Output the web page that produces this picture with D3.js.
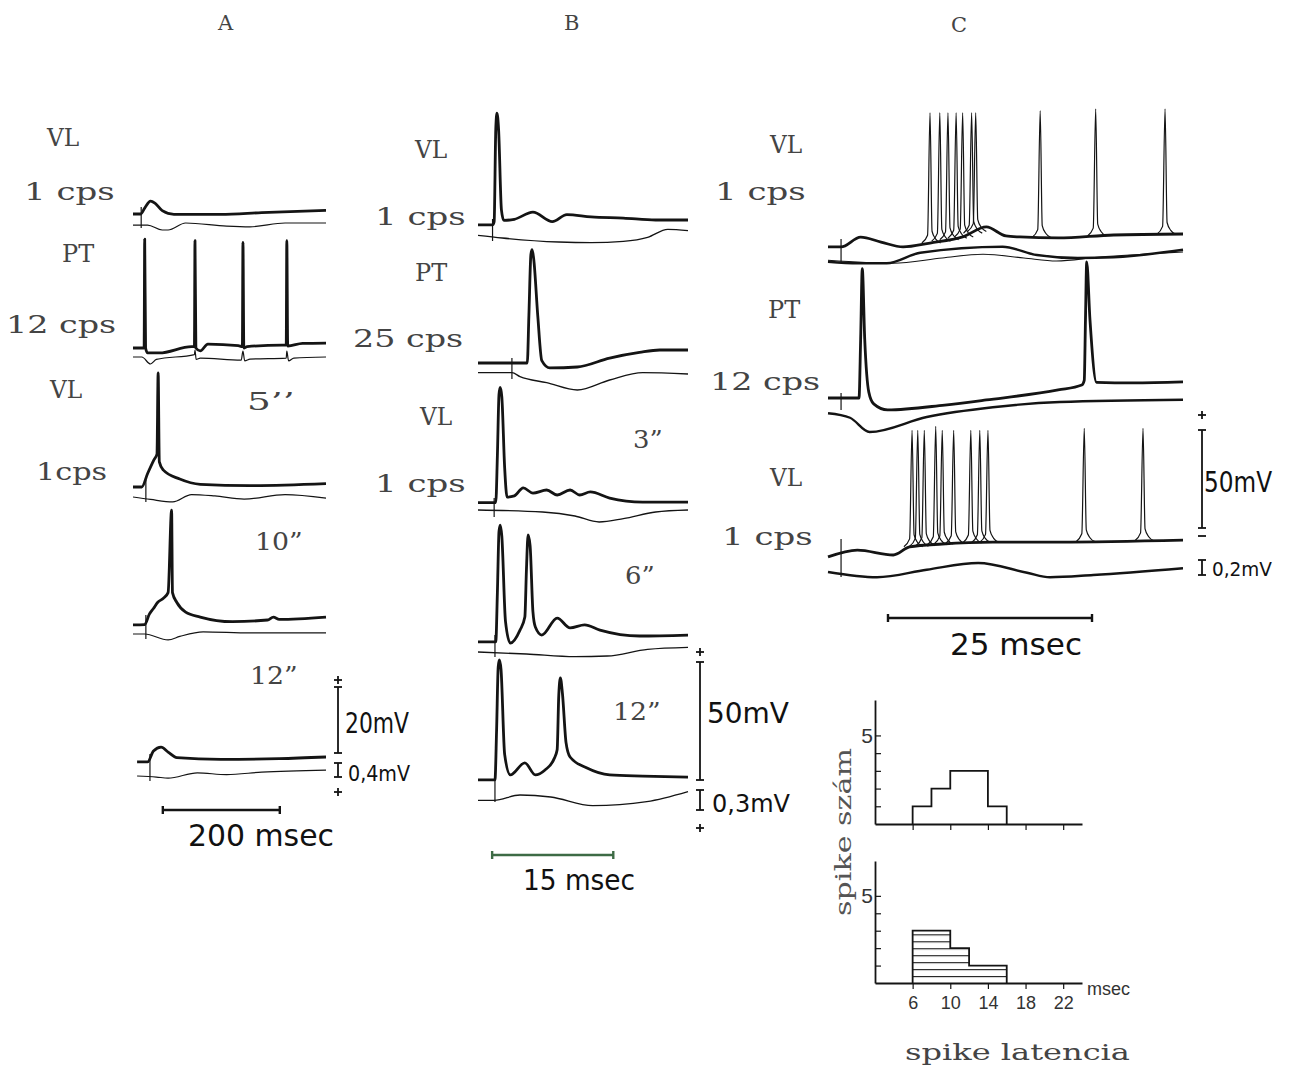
<!DOCTYPE html>
<html>
<head>
<meta charset="utf-8">
<script src="https://cdn.jsdelivr.net/npm/d3@7"></script>
<style>
  body { margin: 0; background: #fff; }
  .tw { font-family: "DejaVu Serif", "Liberation Serif", serif; fill: #444; }
  .hw { font-family: "Liberation Sans Narrow", "DejaVu Sans Condensed", "Liberation Sans", sans-serif; fill: #111; }
  .hs { font-family: "Liberation Sans", "DejaVu Sans", sans-serif; fill: #333; }
</style>
</head>
<body>
<div id="wrapper"></div>
<script>
// ---------- data: time in msec, intracellular trace in mV, field trace in mV ----------

// A : VL 1cps, PT 12cps, VL after 5", 10", 12"
const a1Thick = [[0,-0.6],[13,-0.6],[20,1.2],[30,3.3],[38,2.6],[50,0.4],[70,-0.7],[150,-0.7],[220,-0.2],[330,0.5]];
const a1Thin  = [[0,-0.06],[25,-0.06],[50,-0.2],[60,-0.2],[90,0],[160,-0.09],[200,-0.11],[260,0],[330,0]];
const a2Thick = [[0,0],[19,0],[20,33],[21.5,0],[25,-1.5],[45,-1.5],[100,0.4],[105,0.4],[106,32.5],[107.5,0],[115,-0.9],[128,1.2],[180,0.7],[187,0.4],[188,32],[189.5,0],[195,0.4],[255,0.9],[262,0.9],[263,32.5],[264.5,0.6],[290,1.4],[330,1.5]];
const a2Thin  = [[0,0],[15,0],[30,-0.2],[40,-0.07],[105,0.07],[106,0.2],[108,-0.07],[115,-0.03],[185,-0.09],[188,0.17],[191,-0.11],[200,-0.06],[262,-0.03],[263,0.17],[266,-0.11],[275,-0.03],[330,0]];
const a3Thick = [[0,-0.6],[15,-0.6],[25,3.5],[36,7.7],[41,9.4],[43,34],[45,7],[52,4.5],[80,1.8],[115,0.2],[200,-0.2],[330,0.4]];
const a3Thin  = [[0,0],[30,-0.07],[68,-0.14],[100,0.07],[140,0.03],[190,-0.06],[260,0.07],[330,-0.03]];
const a4Thick = [[0,-1.5],[20,-1.4],[28,1.8],[35,3.5],[42,5.3],[52,6.6],[60,8.3],[66,33.3],[67.5,8.3],[75,5.3],[90,2.4],[115,0.9],[170,-0.5],[230,0],[240,0.9],[250,0.2],[330,0.9]];
const a4Thin  = [[0,0],[20,0],[60,-0.17],[80,-0.07],[120,0.06],[200,0.03],[330,0.03]];
const a5Thick = [[7,-0.9],[25,-0.9],[35,2.4],[48,3.6],[60,2.1],[75,0.4],[150,-0.1],[250,0.1],[330,0.6]];
const a5Thin  = [[7,0],[40,-0.03],[60,-0.06],[110,0.09],[160,0.04],[220,0.11],[330,0.17]];
const aStim = [14, null, 22, 22, 29];

// B : VL 1cps, PT 25cps, VL after 3", 6", 12"
const b1Thick = [[0,-0.4],[1.8,-0.4],[2.0,1],[2.2,40],[2.35,47],[2.55,40],[2.9,6],[3.2,1.5],[4.5,2],[6.8,5],[9.2,1],[11,4],[14,3],[18,2.5],[22,1.7],[26,1.7]];
const b1Thin  = [[0,0.01],[3,-0.03],[10,-0.09],[14,-0.1],[18,-0.08],[21,-0.02],[23.5,0.1],[26,0.08]];
const b2Thick = [[0,0],[6.1,0],[6.3,20],[6.55,46],[6.7,48],[6.9,44],[7.4,20],[7.9,1],[8.9,-2.1],[12.3,-1.7],[16.3,2.1],[20,4.5],[22.5,5.5],[26,5.5]];
const b2Thin  = [[0,0.02],[4.2,0.02],[5.2,-0.04],[8.5,-0.13],[12.3,-0.24],[16.3,-0.09],[20.4,0.02],[26,0]];
const b3Thick = [[0,0.2],[2.2,0.2],[2.4,20],[2.6,46],[2.75,49],[2.95,45],[3.3,15],[3.6,2.5],[4.5,3],[5.6,6.4],[6.8,4.2],[8.5,5.5],[9.8,3.4],[11.4,5.5],[12.6,3.4],[13.9,4.7],[16.3,2.1],[20.4,0.4],[26,0.4]];
const b3Thin  = [[0,0.03],[8,0],[12,-0.06],[15,-0.15],[18,-0.1],[22,0],[26,0.03]];
const b4Thick = [[0,-0.8],[2.2,-0.8],[2.4,20],[2.6,46],[2.75,48.7],[2.95,44],[3.4,8],[4.0,-1.3],[5.2,4.2],[5.8,9.7],[6.0,30],[6.2,44.5],[6.45,40],[6.8,12],[7.1,5.5],[7.9,2.1],[9.8,9.3],[11.4,5.1],[13.2,6.4],[15.1,4.2],[20,1.7],[26,2.1]];
const b4Thin  = [[0,0],[6,-0.03],[12,-0.07],[16,-0.06],[21,0.04],[26,0.07]];
const b5Thick = [[0,-0.8],[2.1,-0.8],[2.3,20],[2.5,47],[2.65,50],[2.85,46],[3.3,10],[4.0,1.3],[5.8,6.4],[7.1,1.3],[8.3,3.4],[9.4,8],[9.8,12],[10.0,35],[10.2,42.4],[10.45,36],[10.9,15],[11.4,8.9],[13.5,4.2],[16.3,1.3],[20.4,0.8],[26,0.4]];
const b5Thin  = [[0,-0.05],[2,-0.05],[5.2,0.03],[9,0],[14.2,-0.13],[20.9,-0.07],[26,0.08]];
const bStim = [1.8, 4.2, 2.0, 2.1, 2.1];

// C : superimposed sweeps, VL 1cps, PT 12cps, VL 1cps
const c1Thick  = [[0,-1.5],[1.6,-1.5],[4.0,3.5],[6.5,1],[9.2,-1.5],[12.5,0.5],[16.5,3.6],[19.4,8.7],[21.8,4.1],[23.5,3.6],[28.2,3.1],[35,4.6],[43.5,5.1]];
const c1Field  = [[0,-0.05],[3.7,-0.07],[7.2,-0.07],[11.3,0.07],[21.4,0.15],[25.6,0.04],[30.6,0],[35,0.01],[43.5,0.11]];
const c1Field2 = [[0,-0.03],[8,-0.07],[14,0.0],[19,0.05],[24,0.0],[28,-0.04],[33,0.01],[43.5,0.08]];
const c1Spikes = [[12.5,67],[13.7,67],[14.7,67],[15.7,67],[16.5,67],[17.6,67],[18.1,67],[26,68],[32.8,69],[41.3,69]];
const c2Thick  = [[0,0],[3.8,0],[4.0,30],[4.2,66],[4.5,30],[5.0,3],[5.6,-3],[7.3,-6.1],[14.3,-3.6],[19.4,-1],[28.2,4.1],[31.1,6.6],[31.4,9],[31.55,40],[31.7,69.4],[32.1,40],[32.9,8],[37.4,7.7],[43.5,8.2]];
const c2Field  = [[0,-0.11],[2.7,-0.17],[5.1,-0.36],[12.1,-0.16],[20.2,-0.03],[28.4,0.04],[43.5,0.07]];
const c3Thick  = [[0,-6.6],[3.6,-3.1],[8,-5.6],[10,-1.5],[14,0],[20.2,1],[28.4,1],[43.5,2]];
const c3Field  = [[0,0],[6,-0.07],[12.1,0.03],[18.4,0.12],[24.4,-0.01],[27.2,-0.07],[32.5,-0.04],[43.5,0.05]];
const c3Spikes = [[10.3,58],[11.0,58],[11.8,58],[13.2,60],[14.0,58],[15.4,58],[17.5,58],[18.6,58],[19.6,58],[31.4,59],[38.6,59]];
const cStim = [1.6, 1.6, 1.6];

// histograms of spike latency (msec) : counts per 2 msec bin
const binEdges  = [6, 8, 10, 12, 14, 16];
const histUpper = [1, 2, 3, 3, 1];
const histLower = [3, 3, 2, 1, 1];
const latTicks  = [6, 10, 14, 18, 22];

// labels
const panelNames = ["A", "B", "C"];
const labelsA = ["VL", "1 cps", "PT", "12 cps", "VL", "1cps"];
const labelsB = ["VL", "1 cps", "PT", "25 cps", "VL", "1 cps"];
const labelsC = ["VL", "1 cps", "PT", "12 cps", "VL", "1 cps"];
const delaysA = ["5’’", "10”", "12”"];
const delaysB = ["3”", "6”", "12”"];

// ---------- drawing ----------
const width = 1294, height = 1071, ink = "#141414";

const svg = d3.select("#wrapper").append("svg")
    .attr("width", width).attr("height", height)
    .style("background", "#fff");

const curve = (x, y) => d3.line().x(d => x(d[0])).y(d => y(d[1])).curve(d3.curveMonotoneX);

function valueAt(arr, t) {
    const i = d3.bisector(d => d[0]).left(arr, t);
    if (i <= 0) return arr[0][1];
    if (i >= arr.length) return arr[arr.length - 1][1];
    const a = arr[i - 1], b = arr[i];
    return a[1] + (b[1] - a[1]) * (t - a[0]) / (b[0] - a[0]);
}

function drawRows(rows, x, cal, opt) {
    rows.forEach(r => {
        const yT = d3.scaleLinear().domain([0, cal.mv]).range([r.base, r.base - cal.px]);
        const yF = d3.scaleLinear().domain([0, cal.fmv]).range([r.fbase, r.fbase - cal.fpx]);
        const g = svg.append("g");

        if (r.stim != null) {
            g.append("line")
                .attr("x1", x(r.stim)).attr("x2", x(r.stim))
                .attr("y1", yT(0) - 5).attr("y2", yF(0) + 5)
                .attr("stroke", ink).attr("stroke-width", 1.2);
        }
        g.append("path").datum(r.thin)
            .attr("d", curve(x, yF))
            .attr("fill", "none").attr("stroke", ink)
            .attr("stroke-width", opt.thinW).attr("stroke-linejoin", "round");
        if (r.thin2) {
            g.append("path").datum(r.thin2)
                .attr("d", curve(x, yF))
                .attr("fill", "none").attr("stroke", ink)
                .attr("stroke-width", 1.1);
        }
        g.append("path").datum(r.thick)
            .attr("d", curve(x, yT))
            .attr("fill", "none").attr("stroke", ink)
            .attr("stroke-width", opt.thickW).attr("stroke-linejoin", "round");

        (r.spikes || []).forEach(s => {
            const t = s[0], b = valueAt(r.thick, t);
            const pts = [[t - 1.0, b], [t - 0.3, b + 4], [t, s[1]], [t + 0.25, b + 6], [t + 0.7, b + 2], [t + 1.3, b]];
            g.append("path").datum(pts)
                .attr("d", curve(x, yT))
                .attr("fill", "none").attr("stroke", ink)
                .attr("stroke-width", 1.2).attr("stroke-linejoin", "round");
        });
    });
}

function text(x, y, s, cls, size, extra) {
    const t = svg.append("text").attr("class", cls)
        .attr("x", x).attr("y", y).attr("font-size", size).text(s);
    if (extra) extra(t);
    return t;
}

// typewriter label, spread to a fixed pitch per character
function typed(x, y, s, size, pitch) {
    return text(x, y, s, "tw", size, t => t
        .attr("textLength", (s.length - 0.35) * pitch)
        .attr("lengthAdjust", "spacingAndGlyphs"));
}

function calBar(x, yBottom, len, fy, flen, plusTop, plusBottom, color) {
    const g = svg.append("g").attr("stroke", color || ink).attr("stroke-width", 1.8);
    g.append("line").attr("x1", x).attr("x2", x).attr("y1", yBottom).attr("y2", yBottom - len);
    [yBottom, yBottom - len].forEach(y => g.append("line").attr("x1", x - 4).attr("x2", x + 4).attr("y1", y).attr("y2", y));
    g.append("line").attr("x1", x).attr("x2", x).attr("y1", fy).attr("y2", fy + flen);
    [fy, fy + flen].forEach(y => g.append("line").attr("x1", x - 4).attr("x2", x + 4).attr("y1", y).attr("y2", y));
    [plusTop, plusBottom].forEach(y => {
        if (y == null) return;
        g.append("line").attr("x1", x - 4).attr("x2", x + 4).attr("y1", y).attr("y2", y);
        g.append("line").attr("x1", x).attr("x2", x).attr("y1", y - 4).attr("y2", y + 4);
    });
}

function timeBar(x, t0, len, y, color) {
    const g = svg.append("g").attr("stroke", color).attr("stroke-width", 2.4);
    g.append("line").attr("x1", x(t0)).attr("x2", x(t0 + len)).attr("y1", y).attr("y2", y);
    [t0, t0 + len].forEach(t => g.append("line").attr("x1", x(t)).attr("x2", x(t)).attr("y1", y - 4).attr("y2", y + 4));
}

// ----- panel A -----
const xA = d3.scaleLinear().domain([0, 330]).range([133, 326]);
const calA = {mv: 20, px: 66, fmv: 0.4, fpx: 14};
drawRows([
    {thick: a1Thick, thin: a1Thin, base: 212, fbase: 223, stim: aStim[0]},
    {thick: a2Thick, thin: a2Thin, base: 348, fbase: 357, stim: aStim[1]},
    {thick: a3Thick, thin: a3Thin, base: 485, fbase: 497, stim: aStim[2]},
    {thick: a4Thick, thin: a4Thin, base: 620, fbase: 634, stim: aStim[3]},
    {thick: a5Thick, thin: a5Thin, base: 759, fbase: 776, stim: aStim[4]}
], xA, calA, {thickW: 2.8, thinW: 1.2});
calBar(338, 753, calA.px, 763, calA.fpx, 680, 792);
timeBar(xA, 51, 200, 810, ink);

// ----- panel B -----
const xB = d3.scaleLinear().domain([0, 26]).range([478, 688]);
const calB = {mv: 50, px: 118, fmv: 0.3, fpx: 20};
drawRows([
    {thick: b1Thick, thin: b1Thin, base: 224, fbase: 236, stim: bStim[0]},
    {thick: b2Thick, thin: b2Thin, base: 363, fbase: 374, stim: bStim[1]},
    {thick: b3Thick, thin: b3Thin, base: 503, fbase: 512, stim: bStim[2]},
    {thick: b4Thick, thin: b4Thin, base: 640, fbase: 652, stim: bStim[3]},
    {thick: b5Thick, thin: b5Thin, base: 778, fbase: 797, stim: bStim[4]}
], xB, calB, {thickW: 2.8, thinW: 1.3});
calBar(700, 780, calB.px, 790, calB.fpx, 652, 828);
timeBar(xB, 1.75, 15, 855, "#3d6b45");

// ----- panel C -----
const xC = d3.scaleLinear().domain([0, 43.5]).range([828, 1183]);
const calC = {mv: 50, px: 98, fmv: 0.2, fpx: 15};
drawRows([
    {thick: c1Thick, thin: c1Field, thin2: c1Field2, spikes: c1Spikes, base: 244, fbase: 258, stim: cStim[0]},
    {thick: c2Thick, thin: c2Field, base: 398, fbase: 405, stim: cStim[1]},
    {thick: c3Thick, thin: c3Field, spikes: c3Spikes, base: 544, fbase: 572, stim: cStim[2]}
], xC, calC, {thickW: 2.8, thinW: 2.4});
calBar(1202, 528, calC.px, 560, calC.fpx, 415, null);
svg.append("line").attr("x1", 1198).attr("x2", 1206).attr("y1", 536).attr("y2", 536)
    .attr("stroke", ink).attr("stroke-width", 1.8);
timeBar(xC, 7.35, 25, 618, ink);

// ----- labels -----
const headPos = [[218, 30], [564, 30], [951, 32]];
panelNames.forEach((s, i) => text(headPos[i][0], headPos[i][1], s, "tw", 21));

const posA = [[47, 146], [24, 200], [62, 262], [6, 333], [50, 398], [36, 480]];
const posB = [[415, 158], [375, 225], [415, 281], [353, 347], [420, 425], [375, 492]];
const posC = [[770, 153], [715, 200], [768, 318], [710, 390], [770, 486], [722, 545]];
labelsA.forEach((s, i) => typed(posA[i][0], posA[i][1], s, 25, 19.5));
labelsB.forEach((s, i) => typed(posB[i][0], posB[i][1], s, 25, 19.5));
labelsC.forEach((s, i) => typed(posC[i][0], posC[i][1], s, 25, 19.5));

const dPosA = [[247, 410], [255, 550], [250, 684]];
const dPosB = [[633, 448], [625, 584], [613, 720]];
delaysA.forEach((s, i) => typed(dPosA[i][0], dPosA[i][1], s, 25, 18));
delaysB.forEach((s, i) => typed(dPosB[i][0], dPosB[i][1], s, 25, 18));

const hand = [
    ["20mV", 345, 733, 28, 64], ["0,4mV", 348, 781, 21, 62], ["200 msec", 188, 846, 31, 146],
    ["50mV", 707, 723, 29, 82], ["0,3mV", 712, 812, 25, 78], ["15 msec", 523, 890, 28, 112],
    ["50mV", 1204, 492, 29, 68], ["0,2mV", 1212, 576, 20, 60], ["25 msec", 950, 655, 31, 132]
];
hand.forEach(h => text(h[1], h[2], h[0], "hw", h[3], t =>
    t.attr("textLength", h[4]).attr("lengthAdjust", "spacingAndGlyphs")));

// ----- histograms -----
const hx = d3.scaleLinear().domain([2, 24]).range([875, 1082]);
const hyUp = d3.scaleLinear().domain([0, 7]).range([824, 700]);
const hyLo = d3.scaleLinear().domain([0, 7]).range([983, 861]);

const defs = svg.append("defs");
defs.append("pattern").attr("id", "hatch")
    .attr("patternUnits", "userSpaceOnUse").attr("width", 8).attr("height", 6.96)
    .attr("y", 983 - 6.96 * 8)
    .append("line").attr("x1", 0).attr("x2", 8).attr("y1", 0.6).attr("y2", 0.6)
    .attr("stroke", ink).attr("stroke-width", 1.1);

function stepData(counts) {
    const pts = [[binEdges[0], 0]];
    counts.forEach((c, i) => pts.push([binEdges[i], c]));
    pts.push([binEdges[binEdges.length - 1], 0]);
    return pts;
}

function histogram(counts, hy, hatched, labels) {
    const g = svg.append("g");
    const pts = stepData(counts);
    if (hatched) {
        g.append("path").datum(pts)
            .attr("d", d3.area().x(d => hx(d[0])).y0(hy(0)).y1(d => hy(d[1])).curve(d3.curveStepAfter))
            .attr("fill", "url(#hatch)");
    }
    g.append("path").datum(pts)
        .attr("d", d3.line().x(d => hx(d[0])).y(d => hy(d[1])).curve(d3.curveStepAfter))
        .attr("fill", "none").attr("stroke", ink).attr("stroke-width", 1.8);

    const ya = g.append("g").attr("transform", `translate(${hx(2)},0)`)
        .call(d3.axisLeft(hy).tickValues([1, 2, 3, 4, 5]).tickSize(-6).tickSizeOuter(0)
            .tickFormat(d => d === 5 ? "5" : ""));
    const xa = g.append("g").attr("transform", `translate(0,${hy(0)})`)
        .call(d3.axisBottom(hx).tickValues(latTicks).tickSize(6).tickSizeOuter(0)
            .tickFormat(d => labels ? d : ""));
    [ya, xa].forEach(a => {
        a.select(".domain").attr("stroke", ink).attr("stroke-width", 1.8);
        a.selectAll(".tick line").attr("stroke", ink).attr("stroke-width", 1.2);
        a.selectAll("text").attr("class", "hs").attr("fill", "#333")
            .attr("font-family", "Liberation Sans, DejaVu Sans, sans-serif");
    });
    ya.selectAll("text").attr("font-size", 21).attr("x", -2);
    xa.selectAll("text").attr("font-size", 18).attr("dy", "0.95em").attr("y", 9);
}

histogram(histUpper, hyUp, false, false);
histogram(histLower, hyLo, true, true);

text(1087, 995, "msec", "hs", 18);
text(0, 0, "spike szám", "tw", 22, t => t
    .attr("text-anchor", "middle")
    .attr("textLength", 168).attr("lengthAdjust", "spacingAndGlyphs")
    .attr("transform", "translate(851,832) rotate(-90)")
    .style("fill", "#555"));
text(905, 1060, "spike latencia", "tw", 22, t => t
    .attr("textLength", 225).attr("lengthAdjust", "spacingAndGlyphs")
    .style("fill", "#444"));
</script>
</body>
</html>
